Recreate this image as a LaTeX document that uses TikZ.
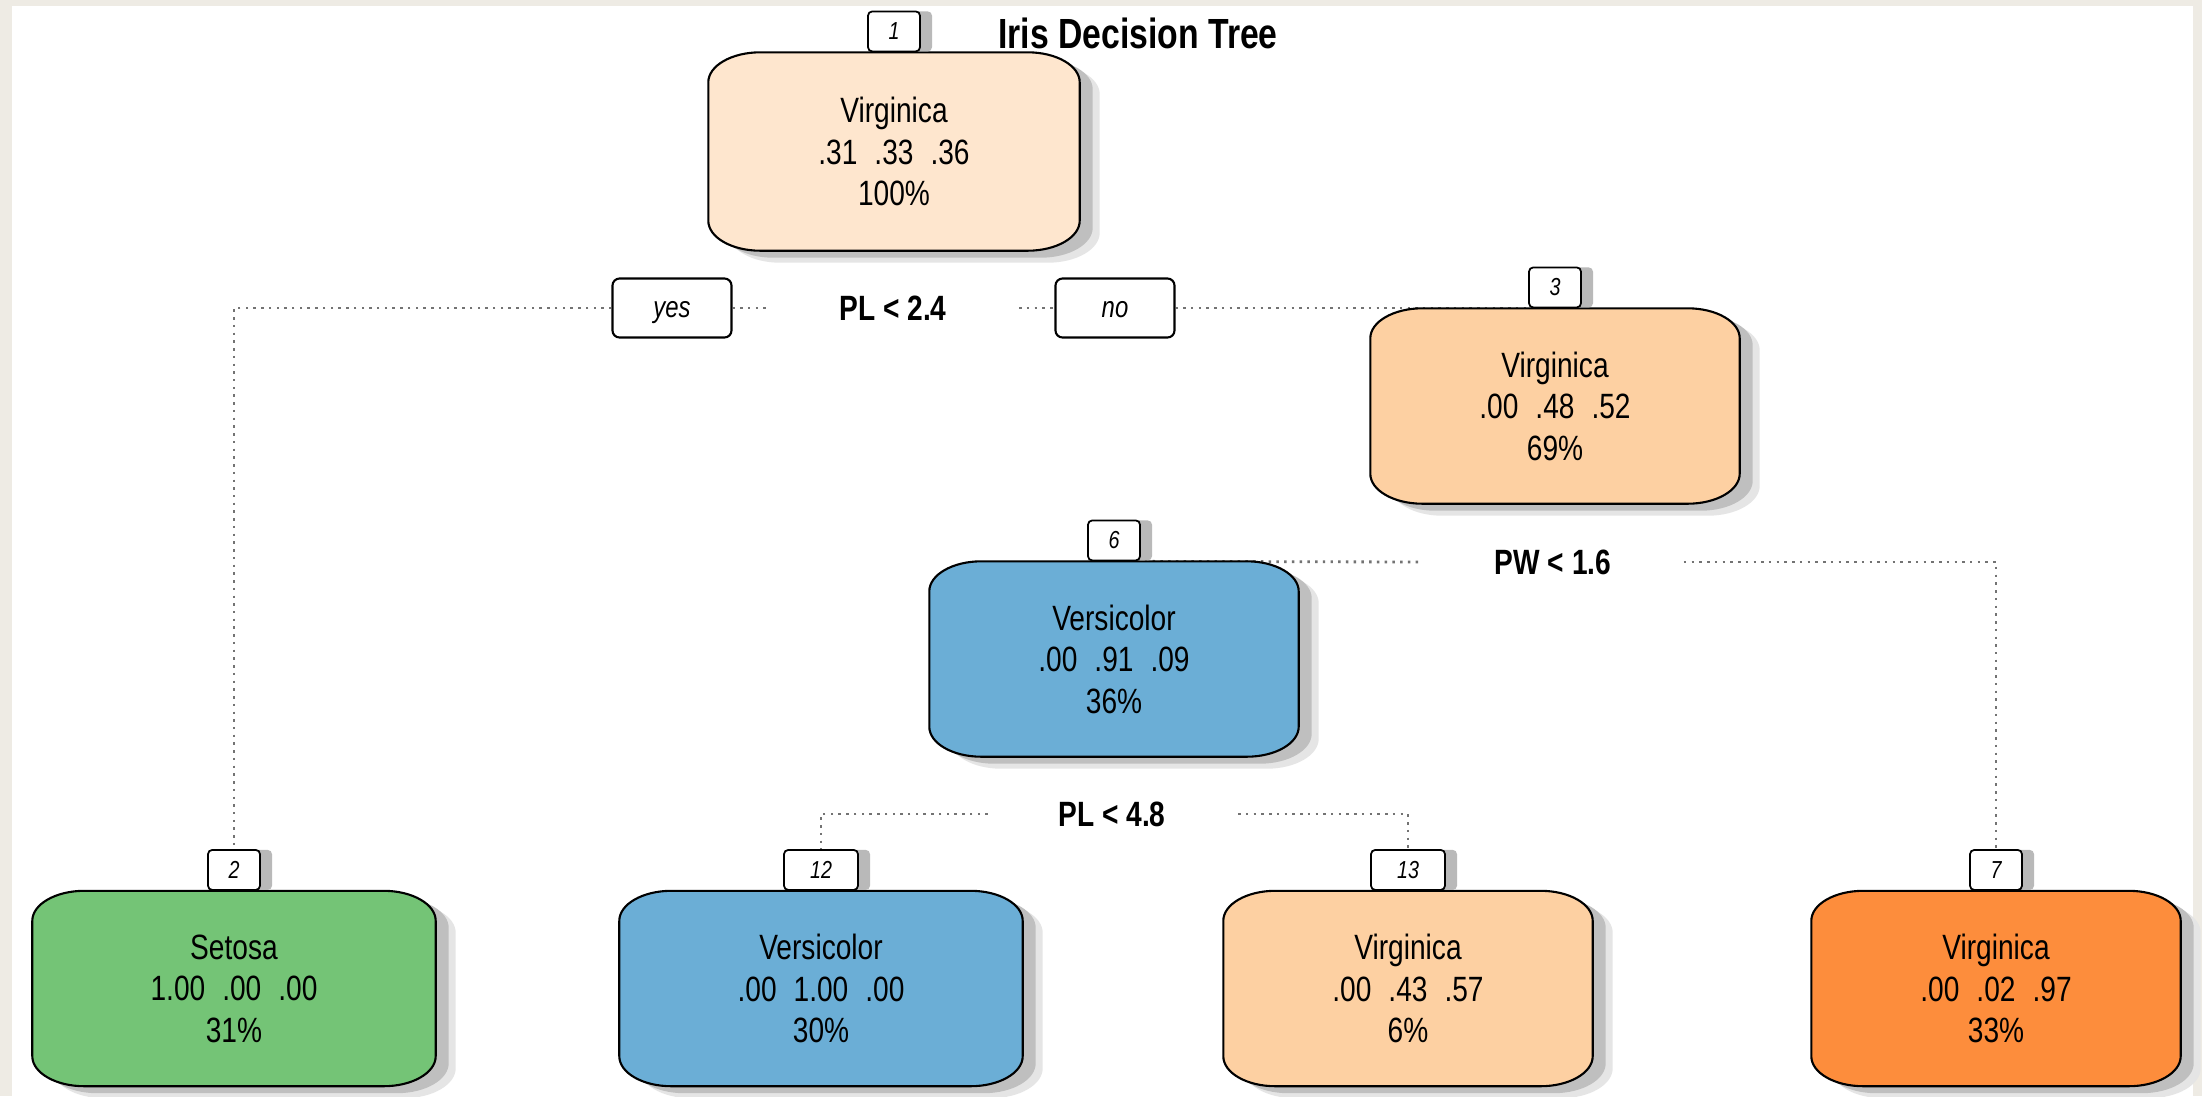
\documentclass[tikz,border=0pt]{standalone}
\usepackage{fontspec}
\setmainfont{Liberation Sans}[FakeStretch=0.8]
\usepackage{tikz}
\usetikzlibrary{positioning, calc, shadows, backgrounds}

\definecolor{FrameBeige}{HTML}{EEEBE4}
\definecolor{OrangeA}{HTML}{FEE6CE}
\definecolor{OrangeB}{HTML}{FDD0A2}
\definecolor{OrangeD}{HTML}{FD8D3C}
\definecolor{BlueC}{HTML}{6BAED6}
\definecolor{GreenC}{HTML}{74C476}

% gap between the class probabilities
\newcommand{\pgap}{\hspace{0.17cm}}

% box outline with elliptic corners, from the corners of a text node
\def\brx{0.52cm}
\def\bry{0.30cm}
\newcommand{\boxoutline}{({\bxl+\brx},\byt) -- ({\bxr-\brx},\byt)
    arc[start angle=90, end angle=0, x radius=\brx, y radius=\bry]
    -- (\bxr,{\byb+\bry})
    arc[start angle=0, end angle=-90, x radius=\brx, y radius=\bry]
    -- ({\bxl+\brx},\byb)
    arc[start angle=270, end angle=180, x radius=\brx, y radius=\bry]
    -- (\bxl,{\byt-\bry})
    arc[start angle=180, end angle=90, x radius=\brx, y radius=\bry]
    -- cycle}
\newcommand{\treebox}[2]{%
    \path (#1.south west); \pgfgetlastxy{\bxl}{\byb}
    \path (#1.north east); \pgfgetlastxy{\bxr}{\byt}
    \fill[gray!20, shift={(0.20,-0.12)}] \boxoutline;
    \fill[gray!50, shift={(0.13,-0.07)}] \boxoutline;
    \draw[fill=#2, line width=0.6pt] \boxoutline;
}

\begin{document}
\begin{tikzpicture}[
    leaf/.style={
        inner sep=0pt,
        align=center,
        minimum width=3.68cm,
        minimum height=1.94cm,
        font=\fontsize{10}{11.8}\selectfont
    },
    wideleaf/.style={leaf, minimum width=4.02cm},
    tag/.style={
        draw, fill=white,
        rounded corners=1.2pt,
        line width=0.5pt,
        inner sep=0pt,
        minimum width=0.52cm,
        minimum height=0.40cm,
        anchor=south,
        font=\fontsize{7}{8}\selectfont\itshape,
        drop shadow={shadow xshift=0.12cm, shadow yshift=0cm, fill=gray!55, opacity=1}
    },
    widetag/.style={tag, minimum width=0.74cm},
    answer/.style={
        draw, fill=white,
        rounded corners=2pt,
        line width=0.6pt,
        inner sep=0pt,
        text height=1ex,
        text depth=0pt,
        minimum width=1.19cm,
        minimum height=0.59cm,
        font=\fontsize{8.5}{10}\selectfont\itshape
    },
    split/.style={inner sep=0pt, font=\fontsize{10}{12}\selectfont\bfseries},
    branch/.style={black!55, line width=0.8pt, dash pattern=on 0.7pt off 1.5pt}
]
\useasboundingbox (0,0) rectangle (22.02,-10.96);

% =========================
% NODES
% =========================
\node[leaf, minimum width=3.70cm, minimum height=1.97cm] (n1) at (8.94,-1.515)
    {Virginica\\.31\pgap.33\pgap.36\\100\%};
\node[leaf] (n3) at (15.55,-4.06)
    {Virginica\\.00\pgap.48\pgap.52\\69\%};
\node[leaf] (n6) at (11.14,-6.59)
    {Versicolor\\.00\pgap.91\pgap.09\\36\%};
\node[wideleaf] (n2) at (2.34,-9.885)
    {Setosa\\1.00\pgap.00\pgap.00\\31\%};
\node[wideleaf] (n12) at (8.21,-9.885)
    {Versicolor\\.00\pgap1.00\pgap.00\\30\%};
\node[leaf] (n13) at (14.08,-9.885)
    {Virginica\\.00\pgap.43\pgap.57\\6\%};
\node[leaf] (n7) at (19.96,-9.885)
    {Virginica\\.00\pgap.02\pgap.97\\33\%};

\node[font=\fontsize{12}{14}\selectfont\bfseries] (title) at (11.38,-0.33) {Iris Decision Tree};

% split labels
\node[split] (sp1) at (8.93,-3.08) {PL < 2.4};
\node[split] (sp3) at (15.53,-5.62) {PW < 1.6};
\node[split] (sp6) at (11.12,-8.14) {PL < 4.8};

\node[answer] (yes) at (6.72,-3.08) {yes};
\node[answer] (no) at (11.15,-3.08) {no};

\coordinate[left=0.72cm of sp1] (sp1l);
\coordinate[right=0.72cm of sp1] (sp1r);
\coordinate[left=0.72cm of sp3] (sp3l);
\coordinate[right=0.72cm of sp3] (sp3r);
\coordinate[left=0.70cm of sp6] (sp6l);
\coordinate[right=0.72cm of sp6] (sp6r);

% =========================
% BOXES AND BRANCHES
% =========================
\begin{pgfonlayer}{background}
    \fill[FrameBeige] (0,0) rectangle (22.02,-10.96);
    \fill[white] (0.12,-0.06) rectangle (21.93,-10.96);

    \draw[branch] (yes.west) -| (n2.north);
    \draw[branch] (yes.east) -- (sp1l);
    \draw[branch] (sp1r) -- (no.west);
    \draw[branch] (no.east) -- (no.east -| n3.north);
    \draw[branch] (n6.north) -- (sp3l);
    \draw[branch] (sp3r) -| (n7.north);
    \draw[branch] (sp6l) -| (n12.north);
    \draw[branch] (sp6r) -| (n13.north);

    \treebox{n1}{OrangeA}
    \treebox{n3}{OrangeB}
    \treebox{n6}{BlueC}
    \treebox{n2}{GreenC}
    \treebox{n12}{BlueC}
    \treebox{n13}{OrangeB}
    \treebox{n7}{OrangeD}
\end{pgfonlayer}

% node numbers
\node[tag] (t1) at (n1.north) {1};
\node[tag] (t3) at (n3.north) {3};
\node[tag] (t6) at (n6.north) {6};
\node[tag] (t2) at (n2.north) {2};
\node[widetag] (t12) at (n12.north) {12};
\node[widetag] (t13) at (n13.north) {13};
\node[tag] (t7) at (n7.north) {7};

\end{tikzpicture}
\end{document}
